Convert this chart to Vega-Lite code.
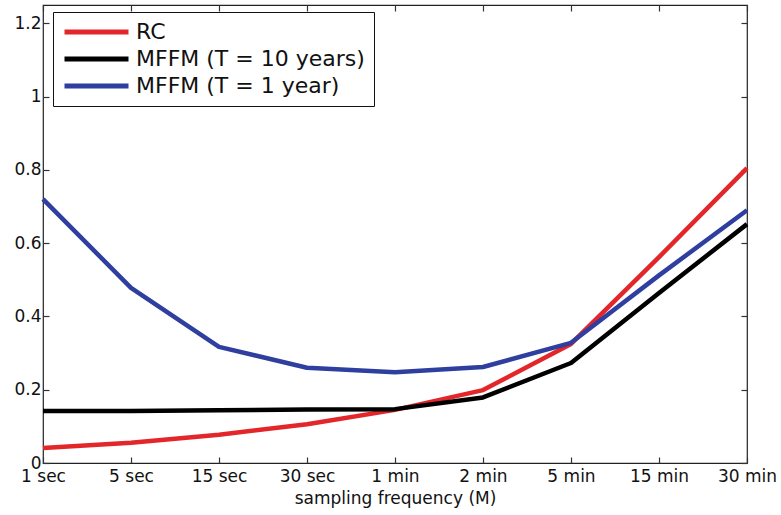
{
  "$schema": "https://vega.github.io/schema/vega-lite/v6.json",
  "width": 704,
  "height": 458,
  "autosize": {"type": "none"},
  "padding": {"left": 43, "top": 5, "right": 34, "bottom": 52},
  "background": "white",
  "config": {
    "view": {"stroke": "#222", "strokeWidth": 1.2},
    "font": "DejaVu Sans",
    "axis": {"grid": false, "domain": false, "tickColor": "#333", "tickSize": -6, "tickWidth": 1.2, "labelColor": "#111", "titleColor": "#111", "labelFont": "DejaVu Sans", "titleFont": "DejaVu Sans", "labelFontSize": 17, "titleFontSize": 17, "titleFontWeight": "normal"}
  },
  "data": {
    "values": [
      {"freq": "1 sec", "series": "RC", "value": 0.041},
      {"freq": "5 sec", "series": "RC", "value": 0.055},
      {"freq": "15 sec", "series": "RC", "value": 0.077},
      {"freq": "30 sec", "series": "RC", "value": 0.106},
      {"freq": "1 min", "series": "RC", "value": 0.145},
      {"freq": "2 min", "series": "RC", "value": 0.199},
      {"freq": "5 min", "series": "RC", "value": 0.325},
      {"freq": "15 min", "series": "RC", "value": 0.562},
      {"freq": "30 min", "series": "RC", "value": 0.805},
      {"freq": "1 sec", "series": "MFFM (T = 10 years)", "value": 0.142},
      {"freq": "5 sec", "series": "MFFM (T = 10 years)", "value": 0.142},
      {"freq": "15 sec", "series": "MFFM (T = 10 years)", "value": 0.144},
      {"freq": "30 sec", "series": "MFFM (T = 10 years)", "value": 0.146},
      {"freq": "1 min", "series": "MFFM (T = 10 years)", "value": 0.147},
      {"freq": "2 min", "series": "MFFM (T = 10 years)", "value": 0.179},
      {"freq": "5 min", "series": "MFFM (T = 10 years)", "value": 0.273},
      {"freq": "15 min", "series": "MFFM (T = 10 years)", "value": 0.464},
      {"freq": "30 min", "series": "MFFM (T = 10 years)", "value": 0.652},
      {"freq": "1 sec", "series": "MFFM (T = 1 year)", "value": 0.72},
      {"freq": "5 sec", "series": "MFFM (T = 1 year)", "value": 0.478},
      {"freq": "15 sec", "series": "MFFM (T = 1 year)", "value": 0.317},
      {"freq": "30 sec", "series": "MFFM (T = 1 year)", "value": 0.26},
      {"freq": "1 min", "series": "MFFM (T = 1 year)", "value": 0.248},
      {"freq": "2 min", "series": "MFFM (T = 1 year)", "value": 0.262},
      {"freq": "5 min", "series": "MFFM (T = 1 year)", "value": 0.328},
      {"freq": "15 min", "series": "MFFM (T = 1 year)", "value": 0.512},
      {"freq": "30 min", "series": "MFFM (T = 1 year)", "value": 0.69}
    ]
  },
  "layer": [
    {
      "mark": {"type": "line", "strokeWidth": 4.5, "strokeJoin": "round"},
      "encoding": {
        "x": {"field": "freq", "type": "ordinal", "sort": ["1 sec", "5 sec", "15 sec", "30 sec", "1 min", "2 min", "5 min", "15 min", "30 min"], "scale": {"type": "point", "padding": 0}, "axis": {"orient": "bottom", "labelAngle": 0, "labelPadding": 11, "title": "sampling frequency (M)", "titlePadding": 6}},
        "y": {"field": "value", "type": "quantitative", "scale": {"domain": [0, 1.25], "nice": false}, "axis": {"orient": "left", "values": [0, 0.2, 0.4, 0.6, 0.8, 1, 1.2], "format": "~g", "labelPadding": 8, "title": null}},
        "color": {"field": "series", "type": "nominal", "sort": ["RC", "MFFM (T = 10 years)", "MFFM (T = 1 year)"], "scale": {"domain": ["RC", "MFFM (T = 10 years)", "MFFM (T = 1 year)"], "range": ["#e3262a", "#000000", "#2f3f9f"]},
          "legend": {"title": null, "orient": "none", "legendX": 10, "legendY": 7, "symbolType": "stroke", "symbolSize": 4096, "symbolStrokeWidth": 5, "labelFontSize": 22, "labelFont": "DejaVu Sans", "labelColor": "#111", "labelOffset": 5, "clipHeight": 22, "rowPadding": 5, "padding": 9, "strokeColor": "#111", "fillColor": "white", "labelLimit": 400}}
      }
    },
    {
      "mark": {"type": "point", "opacity": 0},
      "encoding": {
        "x": {"field": "freq", "type": "ordinal", "sort": ["1 sec", "5 sec", "15 sec", "30 sec", "1 min", "2 min", "5 min", "15 min", "30 min"], "scale": {"type": "point", "padding": 0}, "axis": {"orient": "top", "labels": false, "title": null}},
        "y": {"field": "value", "type": "quantitative", "scale": {"domain": [0, 1.25], "nice": false}, "axis": {"orient": "right", "values": [0, 0.2, 0.4, 0.6, 0.8, 1, 1.2], "labels": false, "title": null}}
      }
    }
  ],
  "resolve": {"axis": {"x": "independent", "y": "independent"}}
}
